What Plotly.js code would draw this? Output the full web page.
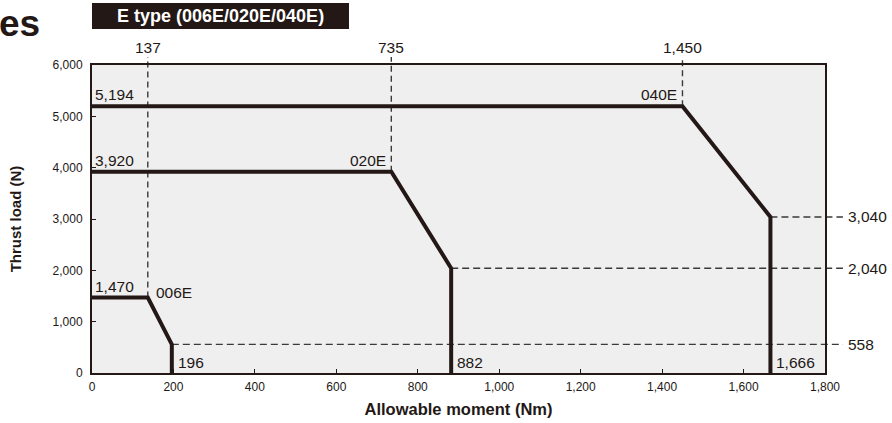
<!DOCTYPE html>
<html><head><meta charset="utf-8">
<script src="https://cdn.plot.ly/plotly-3.0.1.min.js"></script>
<style>html,body{margin:0;padding:0;background:#fff}#c{width:892px;height:423px}</style>
</head><body><div id="c"></div>
<script>
// Series: corner points of the allowable thrust/moment envelopes
const models = ["006E", "020E", "040E"];
const maxThrust = [1470, 3920, 5194];      // N, flat part
const kneeMoment = [137, 735, 1450];       // Nm, end of flat part
const endThrust = [558, 2040, 3040];       // N, after the slope
const maxMoment = [196, 882, 1666];        // Nm, vertical limit
const xRange = [0, 1800];
const yRange = [0, 6000];
const xTicks = [0, 200, 400, 600, 800, 1000, 1200, 1400, 1600, 1800];
const yTicks = [0, 1000, 2000, 3000, 4000, 5000, 6000];

const ink = '#231815';
const dashCol = '#3a3a3a';
const fmt = v => v.toLocaleString('en-US');

const traces = models.map((m, i) => ({
  type: 'scatter', mode: 'lines', name: m, showlegend: false,
  x: [0, kneeMoment[i], maxMoment[i], maxMoment[i]],
  y: [maxThrust[i], maxThrust[i], endThrust[i], 0],
  line: {color: ink, width: 4, shape: 'linear'}, hoverinfo: 'skip'
}));

const shapes = [];
const ann = [];
const topExt = 1.026, rightExt = 1.0245;
models.forEach((m, i) => {
  shapes.push({type: 'line', xref: 'x', yref: 'paper', x0: kneeMoment[i], x1: kneeMoment[i],
    y0: maxThrust[i] / yRange[1], y1: topExt, line: {color: dashCol, width: 1.4, dash: '6px,4px'}, layer: 'below'});
  shapes.push({type: 'line', xref: 'paper', yref: 'y', x0: maxMoment[i] / xRange[1], x1: rightExt,
    y0: endThrust[i], y1: endThrust[i], line: {color: dashCol, width: 1.4, dash: '7px,4px'}, layer: 'below'});
  ann.push({xref: 'x', yref: 'paper', x: kneeMoment[i], y: 1.058, text: fmt(kneeMoment[i]),
    showarrow: false, xanchor: 'center', yanchor: 'middle', font: {size: 15.5, color: ink}});
  ann.push({xref: 'paper', yref: 'y', x: 1.029, y: endThrust[i], text: fmt(endThrust[i]),
    showarrow: false, xanchor: 'left', yanchor: 'middle', font: {size: 15.5, color: ink}});
  ann.push({xref: 'x', yref: 'y', x: 0, y: maxThrust[i], text: fmt(maxThrust[i]),
    showarrow: false, xanchor: 'left', yanchor: 'bottom', xshift: 1, yshift: 1, font: {size: 15.5, color: ink}});
  ann.push({xref: 'x', yref: 'y', x: maxMoment[i], y: 0, text: fmt(maxMoment[i]),
    showarrow: false, xanchor: 'left', yanchor: 'bottom', xshift: 4, yshift: 0, font: {size: 15.5, color: ink}});
  if (i === 0) {
    ann.push({xref: 'x', yref: 'y', x: kneeMoment[i], y: maxThrust[i], text: m,
      showarrow: false, xanchor: 'left', yanchor: 'middle', xshift: 6, yshift: 5, font: {size: 15.5, color: ink}});
  } else {
    ann.push({xref: 'x', yref: 'y', x: kneeMoment[i], y: maxThrust[i], text: m,
      showarrow: false, xanchor: 'right', yanchor: 'bottom', xshift: -3, yshift: 1, font: {size: 15.5, color: ink}});
  }
});

shapes.push({type: 'rect', xref: 'paper', yref: 'paper', x0: 0, x1: 0.3506, y0: 1.117, y1: 1.201,
  fillcolor: ink, line: {width: 0}});
ann.push({xref: 'paper', yref: 'paper', x: 0.1753, y: 1.159, text: '<b>E type (006E/020E/040E)</b>',
  showarrow: false, xanchor: 'center', yanchor: 'middle', font: {size: 18, color: '#ffffff'}});
ann.push({xref: 'paper', yref: 'paper', x: -0.1295, y: 1.135, text: '<b>es</b>',
  showarrow: false, xanchor: 'left', yanchor: 'middle', font: {size: 37, color: ink}});

const layout = {
  width: 892, height: 423,
  margin: {l: 92, r: 67, t: 65, b: 50},
  paper_bgcolor: '#ffffff', plot_bgcolor: '#efeff0',
  font: {family: 'Liberation Sans, Arial, sans-serif', color: ink},
  showlegend: false,
  xaxis: {range: xRange, tickvals: xTicks, ticktext: xTicks.map(fmt), ticks: 'inside', ticklen: 4,
    tickcolor: ink, tickwidth: 1, showgrid: false, zeroline: false, showline: true, mirror: true,
    linecolor: ink, linewidth: 2, tickfont: {size: 12, color: ink}, ticklabelstandoff: 2,
    title: {text: '<b>Allowable moment (Nm)</b>', font: {size: 16.5, color: ink}, standoff: 10}},
  yaxis: {range: yRange, tickvals: yTicks, ticktext: yTicks.map(fmt), ticks: 'inside', ticklen: 4,
    tickcolor: ink, tickwidth: 1, showgrid: false, zeroline: false, showline: true, mirror: true,
    linecolor: ink, linewidth: 2, tickfont: {size: 12, color: ink}, ticklabelstandoff: 5,
    title: {text: '<b>Thrust load (N)</b>', font: {size: 15, color: ink}, standoff: 27}},
  shapes: shapes, annotations: ann
};
Plotly.newPlot('c', traces, layout, {staticPlot: true, displayModeBar: false});
</script></body></html>
